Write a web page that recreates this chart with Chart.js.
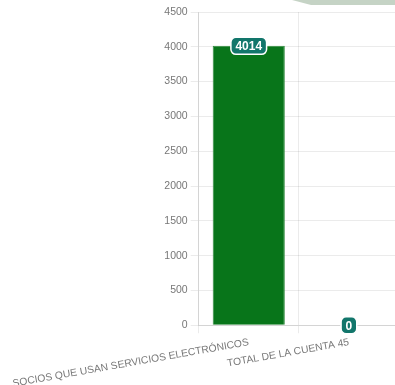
<!DOCTYPE html>
<html>
<head>
<meta charset="utf-8">
<script src="https://cdn.jsdelivr.net/npm/chart.js@4"></script>
<style>
  body { margin: 0; overflow: hidden; background: #fff; }
  #wrap { position: absolute; left: 0; top: 0; width: 399px; height: 393px; }
  #deco { position: absolute; left: 0; top: 0; width: 395px; height: 6px; background: #c5d3c5;
          clip-path: polygon(292px 0, 395px 0, 395px 5px, 311px 5px); z-index: 2; }
</style>
</head>
<body>
<div id="deco"></div>
<div id="wrap"><canvas id="grafica"></canvas></div>
<script>
    const categorias = ["SOCIOS QUE USAN SERVICIOS ELECTRÓNICOS", "TOTAL DE LA CUENTA 45"];
    const valores = [4014, 0];
    const yMin = 0, yMax = 4500, yPaso = 500;

    // etiquetas de valor en caja redondeada
    const etiquetas = {
        id: "etiquetas",
        afterDatasetsDraw(chart) {
            const ctx = chart.ctx;
            chart.getDatasetMeta(0).data.forEach((bar, i) => {
                const txt = String(valores[i]);
                ctx.save();
                ctx.font = "bold 12px 'Liberation Sans', Arial, sans-serif";
                const w = ctx.measureText(txt).width + 9;
                const h = 17;
                ctx.beginPath();
                ctx.roundRect(bar.x - w / 2, bar.y - h / 2, w, h, 5);
                ctx.fillStyle = "#12766b";
                ctx.fill();
                ctx.lineWidth = 1.5;
                ctx.strokeStyle = "#ffffff";
                ctx.stroke();
                ctx.fillStyle = "#ffffff";
                ctx.textAlign = "center";
                ctx.textBaseline = "middle";
                ctx.fillText(txt, bar.x, bar.y + 1);
                ctx.restore();
            });
        }
    };

    var ctx = document.getElementById("grafica").getContext("2d");
    var grafica = new Chart(ctx, {
        type: "bar",
        data: {
            labels: categorias,
            datasets: [{
                data: valores,
                backgroundColor: "#08751a",
                borderColor: "#2f8a3c",
                borderWidth: 1
            }]
        },
        options: {
            responsive: true,
            maintainAspectRatio: false,
            animation: false,
            plugins: { legend: { display: false }, tooltip: { enabled: false } },
            layout: { padding: { top: 12, left: 2, right: 0, bottom: 0 } },
            scales: {
                y: {
                    min: yMin, max: yMax,
                    ticks: { stepSize: yPaso, color: "#777", font: { size: 10.5 }, callback: v => String(v) },
                    grid: { color: "rgba(0,0,0,0.08)" }
                },
                x: {
                    ticks: { color: "#777", font: { size: 10.3 }, minRotation: 10, maxRotation: 10, autoSkip: false },
                    grid: { color: "rgba(0,0,0,0.08)" }
                }
            }
        },
        plugins: [etiquetas]
    });
</script>
</body>
</html>
